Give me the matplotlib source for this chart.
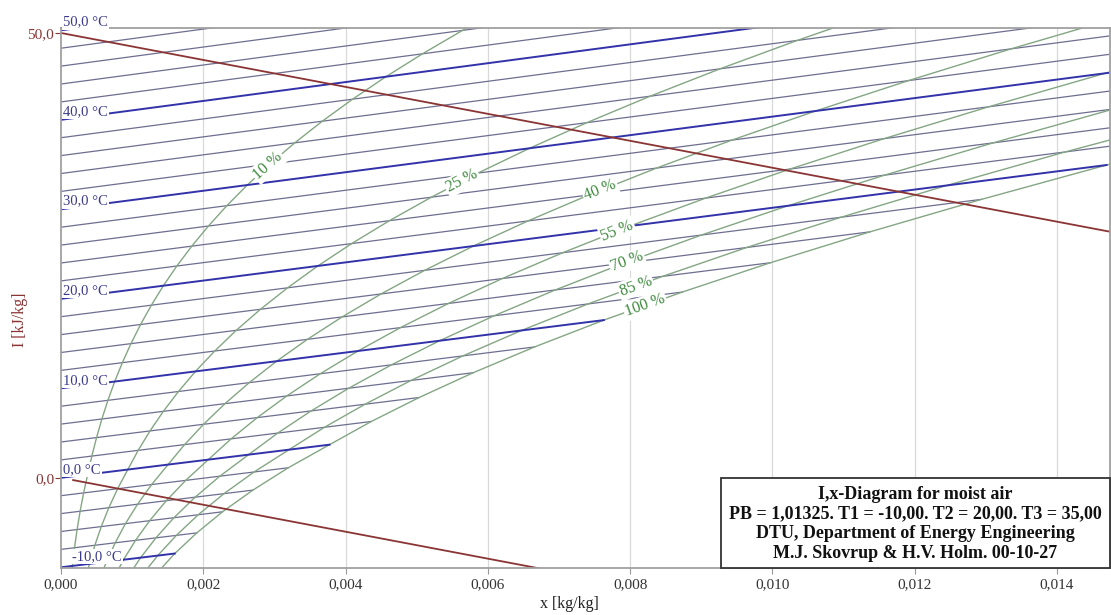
import matplotlib.pyplot as plt
import numpy as np
from matplotlib.patches import Rectangle

plt.rcParams['font.family'] = ['Liberation Serif', 'DejaVu Serif']

# isotherms (°C) and saturation vapour pressure (Pa), over ice below 0 °C
temps = list(range(-14, 52, 2))
p_sat = [181.5, 217.8, 259.9, 309.9, 368.4, 437.5, 517.7,
         611.2, 705.5, 813.5, 935.3, 1073.0, 1228.0, 1403.0, 1599.0,
         1819.0, 2065.0, 2339.0, 2645.0, 2986.0, 3364.0, 3783.0,
         4247.0, 4760.0, 5325.0, 5948.0, 6633.0, 7385.0, 8210.0,
         9112.0, 10099.0, 11177.0, 12352.0]
labelled_temps = [-10, 0, 10, 20, 30, 40, 50]

# relative humidity curves (%) and where their labels sit (x, kg/kg)
rh_levels = [10, 25, 40, 55, 70, 85, 100]
rh_label_x = [0.00291, 0.00564, 0.00758, 0.00782, 0.00796, 0.00808, 0.00821]

# isenthalps (kJ/kg)
enthalpy_levels = [0.0, 50.0]
enthalpy_x_start = [0.00017, 0.0]

P = 101325.0   # Pa
K = 1515.0     # skew of the diagram
x_max = 0.014745
y_lim = (-10.14, 50.56)

info = ("I,x-Diagram for moist air\n"
        "PB = 1,01325. T1 = -10,00. T2 = 20,00. T3 = 35,00\n"
        "DTU, Department of Energy Engineering\n"
        "M.J. Skovrup & H.V. Holm. 00-10-27")

c_iso = '#6e6e90'
c_iso10 = '#3232aa'
c_rh = '#84a684'
c_rh_txt = '#3d8a3d'
c_red = '#8b3434'


def humidity(pv):
    return 0.622 * pv / (P - pv)


def enthalpy(t, x):
    return 1.006 * t + x * (2501.0 + 1.86 * t)


def skew(t, x):
    return enthalpy(t, x) - K * x


fig = plt.figure(figsize=(11.11, 6.15), dpi=100)
ax = fig.add_axes([61 / 1111, 47 / 615, 1049 / 1111, 540 / 615])
ax.set_xlim(0, x_max)
ax.set_ylim(*y_lim)

xticks = np.arange(0, 0.0141, 0.002)
ax.set_xticks(xticks)
ax.set_xticklabels([f"{v:.3f}".replace('.', ',') for v in xticks], fontsize=11, color='#333333')
for v in xticks[1:]:
    ax.axvline(v, color='#d9d9d9', lw=0.9, zorder=0)
ax.tick_params(axis='x', length=4, color='#999999', pad=3)

ax.set_yticks(enthalpy_levels)
ax.set_yticklabels([f"{v:.1f}".replace('.', ',') for v in enthalpy_levels], fontsize=11)
ax.tick_params(axis='y', length=4, colors=c_red, pad=1)

ax.set_xlabel('x [kg/kg]', fontsize=11.5, color='#222222')
ax.xaxis.set_label_coords(0.485, -0.052)
ax.set_ylabel('I [kJ/kg]', fontsize=11.5, color=c_red)
ax.yaxis.set_label_coords(-0.031, 0.46)

for sp in ax.spines.values():
    sp.set_color('#a0a0a0')
    sp.set_linewidth(1.3)

# isotherms, ending on the saturation line
x_sat = [humidity(p) for p in p_sat]
for t, xs in zip(temps, x_sat):
    xs_line = [0.0, xs]
    ys_line = [skew(t, 0.0), skew(t, xs)]
    if t in labelled_temps:
        ax.plot(xs_line, ys_line, color=c_iso10, lw=1.4, zorder=2)
    else:
        ax.plot(xs_line, ys_line, color=c_iso, lw=0.9, zorder=1)

for t in labelled_temps:
    x0 = 0.00016 if t < 0 else 0.00003
    ax.text(x0, skew(t, 0.0003 if t >= 0 else 0.0006) + 0.6,
            f"{t:.1f}".replace('.', ',') + ' °C',
            fontsize=10.5, color='#3a3a8c', ha='left', va='center', zorder=4,
            bbox=dict(boxstyle='square,pad=0.08', fc='white', ec='none'),
            clip_on=False)

# relative humidity curves
for rh, lx in zip(rh_levels, rh_label_x):
    cx = np.array([humidity(rh / 100.0 * p) for p in p_sat])
    cy = np.array([skew(t, x) for t, x in zip(temps, cx)])
    ax.plot(cx, cy, color=c_rh, lw=1.0, zorder=1.5)
    ly = np.interp(lx, cx, cy)
    p1 = ax.transData.transform((lx - 0.0002, np.interp(lx - 0.0002, cx, cy)))
    p2 = ax.transData.transform((lx + 0.0002, np.interp(lx + 0.0002, cx, cy)))
    ang = np.degrees(np.arctan2(p2[1] - p1[1], p2[0] - p1[0]))
    ax.text(lx, ly, f"{rh} %", fontsize=11.5, color=c_rh_txt, ha='center', va='center',
            rotation=ang, rotation_mode='anchor', zorder=4,
            bbox=dict(boxstyle='square,pad=0.1', fc='white', ec='none'))

# isenthalps
for h, xs0 in zip(enthalpy_levels, enthalpy_x_start):
    ax.plot([xs0, x_max], [h - K * xs0, h - K * x_max], color=c_red, lw=1.3, zorder=2.5)

# info box
bx0 = (721 - 61) / 1049
ax.add_patch(Rectangle((bx0, 0.0), 1.0 - bx0, 90 / 540, transform=ax.transAxes,
                       fc='white', ec='#333333', lw=1.3, zorder=5, clip_on=False))
ax.text((bx0 + 1.0) / 2, 44 / 540, info, transform=ax.transAxes, ha='center', va='center',
        multialignment='center', fontsize=13, fontweight='bold', color='#111111',
        linespacing=1.2, zorder=6)

fig.savefig('out.png', dpi=100)
